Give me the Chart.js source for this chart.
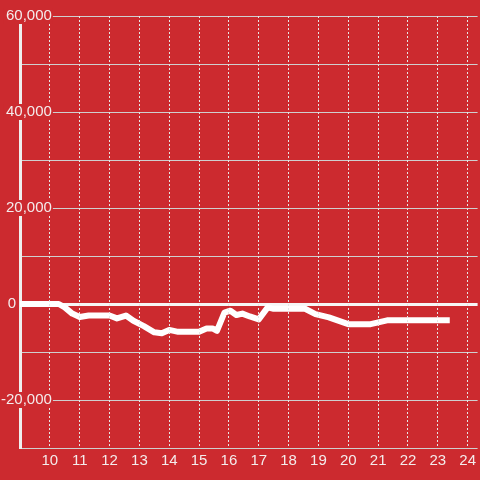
<!DOCTYPE html>
<html>
<head>
<meta charset="utf-8">
<script src="https://cdn.jsdelivr.net/npm/chart.js@4"></script>
<style>
  html, body { margin: 0; padding: 0; background: #cc2a2f; }
  canvas { display: block; }
</style>
</head>
<body>
<canvas id="lineChart" width="480" height="480"></canvas>
<script>
const hours = [9, 10.3, 10.5, 10.75, 11.0, 11.3, 12.0, 12.25, 12.55, 12.8, 13.15, 13.5, 13.75, 14.0, 14.3,
  15.0, 15.25, 15.45, 15.6, 15.85, 16.05, 16.25, 16.45, 16.7, 17.0, 17.3, 17.5, 18.55, 18.9, 19.35,
  20.0, 20.75, 21.3, 23.3]
const values = [0, 0, -700, -2000, -2700, -2400, -2400, -3000, -2400, -3500, -4600, -5900, -6100, -5400, -5800,
  -5800, -5100, -5100, -5600, -1800, -1400, -2300, -2000, -2600, -3200, -700, -1000, -1000, -2100, -2800,
  -4200, -4200, -3400, -3400]

const xTicks = [10, 11, 12, 13, 14, 15, 16, 17, 18, 19, 20, 21, 22, 23, 24]
const yTicks = [-30000, -20000, -10000, 0, 10000, 20000, 30000, 40000, 50000, 60000]
const yLabelTicks = [60000, 40000, 20000, -20000]

const bg = '#cc2a2f'
const textColor = '#f4ecec'
const font = { family: "'Liberation Sans', Arial, sans-serif", size: 15 }

document.addEventListener('DOMContentLoaded', () => {
  const ctx = document.getElementById('lineChart').getContext('2d')

  new Chart(ctx, {
    type: 'line',
    data: {
      datasets: [
        {
          data: hours.map((h, i) => ({ x: h, y: values[i] })),
          borderColor: '#ffffff',
          borderWidth: 6,
          borderJoinStyle: 'round',
          borderCapStyle: 'square',
          pointRadius: 0,
          tension: 0,
        },
      ],
    },
    options: {
      responsive: false,
      animation: false,
      layout: { padding: { top: 16, bottom: 6, left: 0, right: 0 } },
      plugins: { legend: { display: false }, tooltip: { enabled: false } },
      scales: {
        x: {
          type: 'linear',
          min: 9,
          max: 24.333,
          afterBuildTicks: (scale) => { scale.ticks = xTicks.map(v => ({ value: v })) },
          ticks: { color: textColor, font, padding: 4, autoSkip: false, maxRotation: 0 },
          grid: { color: '#e6e6e6', lineWidth: 1, drawTicks: false, z: 1 },
          border: { display: false, dash: [2, 2] },
        },
        y: {
          min: -30000,
          max: 60000,
          weight: 1,
          afterBuildTicks: (scale) => { scale.ticks = yTicks.map(v => ({ value: v })) },
          afterFit: (scale) => { scale.width = 20 },
          ticks: {
            color: textColor,
            font,
            padding: 4,
            callback: (v) => (v === 0 ? '0' : ''),
          },
          grid: {
            drawTicks: false,
            color: (c) => (c.tick && c.tick.value === 0 ? '#f6f6f6' : '#cfcfcf'),
            lineWidth: (c) => (c.tick && c.tick.value === 0 ? 3 : 1),
          },
          border: { color: '#efefef', width: 3 },
        },
        y2: {
          axis: 'y',
          position: 'left',
          min: -30000,
          max: 60000,
          weight: 0,
          afterBuildTicks: (scale) => { scale.ticks = yLabelTicks.map(v => ({ value: v })) },
          afterFit: (scale) => { scale.width = 0 },
          ticks: {
            color: textColor,
            font,
            mirror: true,
            crossAlign: 'far',
            padding: -19,
            z: 2,
            showLabelBackdrop: true,
            backdropColor: bg,
            backdropPadding: { left: 2, right: 1, top: -1, bottom: -1 },
            callback: (v) => v.toLocaleString('en-US'),
          },
          grid: { display: false },
          border: { display: false },
        },
      },
    },
  })
})
</script>
</body>
</html>
